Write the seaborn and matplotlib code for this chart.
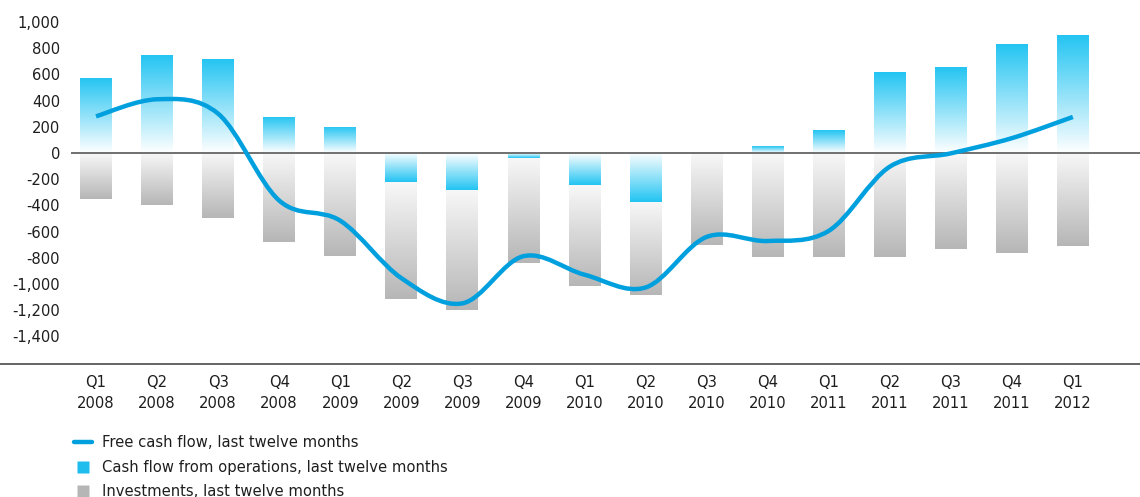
import numpy as np
import pandas as pd
import matplotlib
matplotlib.use("Agg")
import matplotlib.pyplot as plt
import seaborn as sns
from matplotlib.path import Path
from matplotlib.patches import PathPatch
from matplotlib.lines import Line2D
from matplotlib.colors import to_rgb
from matplotlib.ticker import FuncFormatter

# Quarterly cash flow, last twelve months
quarters = ["Q1", "Q2", "Q3", "Q4", "Q1", "Q2", "Q3", "Q4", "Q1",
            "Q2", "Q3", "Q4", "Q1", "Q2", "Q3", "Q4", "Q1"]
years = ["2008", "2008", "2008", "2008", "2009", "2009", "2009", "2009", "2010",
         "2010", "2010", "2010", "2011", "2011", "2011", "2011", "2012"]
operations = [574, 749, 718, 275, 200, -222, -280, -35, -242,
              -376, 0, 52, 175, 615, 659, 834, 904]
investments = [-350, -400, -500, -680, -785, -890, -920, -805, -770,
               -710, -700, -795, -795, -795, -735, -760, -710]
free_cash_flow = [280, 410, 300, -363, -517, -955, -1148, -788, -929,
                  -1027, -641, -672, -595, -105, -3, 113, 275]

y_ticks = list(range(-1400, 1001, 200))

BLUE = "#22C4F2"
BLUE_KEY = "#1FBDEE"
GRAY = "#B6B6B6"
LINE = "#00A0DE"
TEXT = "#1E1E1E"

sns.set_theme(style="white")
plt.rcParams["font.family"] = ["DejaVu Sans"]
FS = 10.6

W, H = 1140, 497
fig = plt.figure(figsize=(W / 100, H / 100), dpi=100)
ax = fig.add_axes([71 / W, (H - 363.5) / H, (W - 71) / W, (363.5 - 9) / H])

labels = [f"{q}\n{y}" for q, y in zip(quarters, years)]
df = pd.DataFrame({
    "quarter": labels,
    "operations": operations,
    "investments": investments,
})
inv_base = np.minimum(df["operations"].to_numpy(), 0)

sns.barplot(data=df, x="quarter", y="operations", order=labels, width=0.52,
            color=BLUE, saturation=1, errorbar=None, ax=ax)
n_ops = len(ax.patches)
sns.barplot(data=df, x="quarter", y="investments", order=labels, width=0.52,
            color=GRAY, saturation=1, errorbar=None, ax=ax, bottom=inv_base)


def shade(patch, color, start="#FFFFFF"):
    """Replace a bar's flat fill with a vertical fade from its base."""
    h = patch.get_height()
    patch.set_facecolor("none")
    patch.set_edgecolor("none")
    if h == 0:
        return
    x0, w, y0 = patch.get_x(), patch.get_width(), patch.get_y()
    lo, hi = sorted([y0, y0 + h])
    t = np.linspace(0, 1, 256)
    frac = t if h > 0 else t[::-1]
    c0, c1 = np.array(to_rgb(start)), np.array(to_rgb(color))
    img = (c0[None, :] + (c1 - c0)[None, :] * frac[:, None]).reshape(256, 1, 3)
    im = ax.imshow(img, extent=(x0, x0 + w, lo, hi), origin="lower",
                   aspect="auto", interpolation="bilinear", zorder=2)
    im.set_clip_path(patch)


for i, p in enumerate(list(ax.patches)):
    if i < n_ops:
        shade(p, BLUE)
    else:
        shade(p, GRAY, start="#F8F8F8")

# Smoothed free cash flow curve (cubic Bezier through each quarter)
xs = np.arange(len(free_cash_flow), dtype=float)
ys = np.asarray(free_cash_flow, dtype=float)
pts = np.column_stack([xs, ys])
verts = [tuple(pts[0])]
codes = [Path.MOVETO]
n = len(pts)
for i in range(n - 1):
    p0 = pts[max(i - 1, 0)]
    p1 = pts[i]
    p2 = pts[i + 1]
    p3 = pts[min(i + 2, n - 1)]
    c1 = p1 + (p2 - p0) / 6.0
    c2 = p2 - (p3 - p1) / 6.0
    verts += [tuple(c1), tuple(c2), tuple(p2)]
    codes += [Path.CURVE4] * 3
ax.add_patch(PathPatch(Path(verts, codes), facecolor="none", edgecolor=LINE,
                       lw=3.2, capstyle="butt", joinstyle="round", zorder=5))

ax.axhline(0, color="#707070", lw=1.4, zorder=4)

ax.set_xlim(-0.41, 17.10)
ax.set_ylim(-1607, 1099)
ax.set_yticks(y_ticks)
ax.yaxis.set_major_formatter(FuncFormatter(lambda v, _: f"{v:,.0f}"))
ax.set_xlabel("")
ax.set_ylabel("")
for s in ax.spines.values():
    s.set_visible(False)
ax.tick_params(axis="both", length=0, labelsize=FS, colors=TEXT)
ax.tick_params(axis="y", pad=8)
ax.tick_params(axis="x", pad=8)
for lbl in ax.get_xticklabels():
    lbl.set_linespacing(1.5)
ax.grid(False)

# Baseline under the plot spanning the full width
fig.add_artist(Line2D([0, 1], [(H - 363.5) / H] * 2, transform=fig.transFigure,
                      color="#4A4A4A", lw=1.2))

handles = [
    Line2D([], [], color=LINE, lw=3.2, label="Free cash flow, last twelve months"),
    Line2D([], [], ls="none", marker="s", markersize=9, markerfacecolor=BLUE_KEY,
           markeredgecolor="none", label="Cash flow from operations, last twelve months"),
    Line2D([], [], ls="none", marker="s", markersize=9, markerfacecolor=GRAY,
           markeredgecolor="none", label="Investments, last twelve months"),
]
fig.legend(handles=handles, loc="upper left", bbox_to_anchor=(74 / W, 1 - 435 / H),
           frameon=False, borderpad=0, borderaxespad=0, handlelength=1.22,
           handletextpad=0.7, labelspacing=0.66, fontsize=FS, labelcolor=TEXT)

fig.savefig("out.png", dpi=100)
